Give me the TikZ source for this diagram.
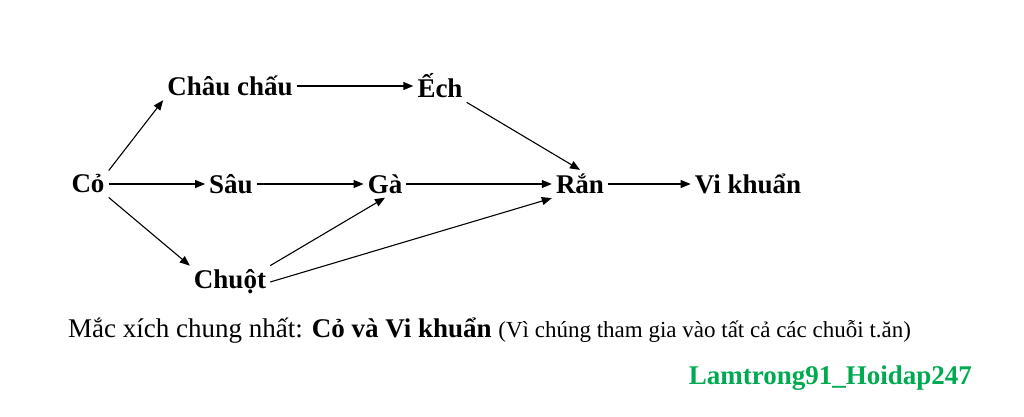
\documentclass[tikz,border=0pt]{standalone}
\usepackage{fontspec}
\setmainfont{Liberation Serif}
\usetikzlibrary{arrows.meta}
\begin{document}
\begin{tikzpicture}[x=1pt, y=-1pt,
    every node/.style={font=\fontsize{27}{30}\selectfont\bfseries, inner sep=4pt},
    arrow/.style={-{Triangle[length=10pt, width=8pt]}, line width=1.1pt}
]
\useasboundingbox (0,0) rectangle (1024,417);

% Nodes
\node (co) at (88,184) {Cỏ};
\node (chauchau) at (230,86) {Châu chấu};
\node (ech) at (440,86) {Ếch};
\node (sau) at (231,184) {Sâu};
\node (ga) at (385,184) {Gà};
\node (ran) at (580,184) {Rắn};
\node (vikhuan) at (748,184) {Vi khuẩn};
\node (chuot) at (230,282) {Chuột};

% Arrows
\draw [arrow] (co.north east) -- (chauchau.south west);
\draw [arrow] (co) -- (sau);
\draw [arrow] (co.south east) -- (chuot.north west);
\draw [arrow] (chauchau) -- (ech);
\draw [arrow] (ech.south east) -- (ran.north);
\draw [arrow] (sau) -- (ga);
\draw [arrow] (ga) -- (ran);
\draw [arrow] (chuot.north east) -- (ga.south);
\draw [arrow] (chuot.east) -- (ran.south west);
\draw [arrow] (ran) -- (vikhuan);

% Caption
\node (caption) [anchor=west, inner sep=2pt, font=\fontsize{27}{30}\selectfont] at (66,331)
  {Mắc xích chung nhất: \textbf{Cỏ và Vi khuẩn} {\fontsize{23}{26}\selectfont(Vì chúng tham gia vào tất cả các chuỗi t.ăn)}};
\node (credit) [anchor=east, inner sep=2pt, text={rgb,255:red,0;green,170;blue,80}] at (974,378) {Lamtrong91\_Hoidap247};
\end{tikzpicture}
\end{document}
